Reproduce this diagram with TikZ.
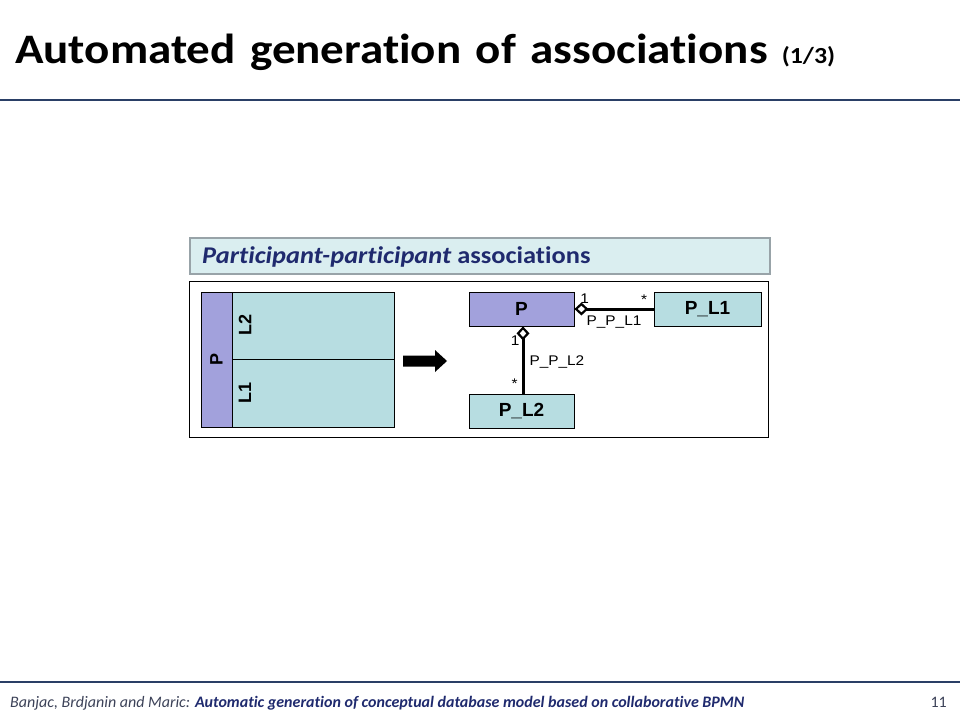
\documentclass[tikz,border=0pt]{standalone}
\usepackage{fontspec}
\setmainfont{Carlito}[Ligatures=NoCommon]
\newfontfamily\titlefont{Carlito}[FakeStretch=1.12, Ligatures=NoCommon, WordSpace=1.35]
\newfontfamily\headfont{Carlito}[FakeStretch=1.1, Ligatures=NoCommon]
\newfontfamily\arialfont{Liberation Sans}
\newfontfamily\arialwide{Liberation Sans}[FakeStretch=1.1]
\usetikzlibrary{positioning,arrows.meta}

\definecolor{navy}{HTML}{1F2A6E}
\definecolor{rulecol}{HTML}{2A3F66}
\definecolor{lavender}{HTML}{A2A1DC}
\definecolor{paleteal}{HTML}{B7DDE1}
\definecolor{barfill}{HTML}{DAEEF0}
\definecolor{bargray}{HTML}{98A3A8}
\definecolor{footgray}{HTML}{3C4258}

\tikzset{
	cls/.style = {draw, line width=0.8pt, minimum height=34pt, inner sep=0pt,
		font=\arialfont\fontsize{19}{22}\selectfont\bfseries},
	lane/.style = {draw, line width=0.8pt, fill=paleteal, inner sep=0pt},
	lanename/.style = {rotate=90, inner sep=0pt, font=\arialfont\fontsize{18}{20}\selectfont\bfseries},
	assoc/.style = {line width=3pt, -{Diamond[open, length=14pt, width=13pt, line width=2.2pt]}},
	mult/.style = {inner sep=1pt, font=\arialwide\fontsize{14}{16}\selectfont},
}

\begin{document}
\begin{tikzpicture}[x=1pt, y=-1pt]
	\useasboundingbox (0,0) rectangle (960,720);

	% title and rules
	\node[anchor=base west, inner sep=0pt] (title) at (15,63)
		{\titlefont\fontsize{42}{50}\selectfont\bfseries Automated generation of associations {\fontsize{23}{27}\selectfont (1/3)}};
	\draw[rulecol, line width=2pt] (0,100) -- (960,100);
	\draw[rulecol, line width=2pt] (0,682) -- (960,682);

	% footer
	\node[anchor=base west, inner sep=0pt] (foot) at (10,707)
		{\fontsize{16}{19}\selectfont\itshape\color{footgray}Banjac, Brdjanin and Maric: \color{navy}\bfseries Automatic generation of conceptual database model based on collaborative BPMN};
	\node[anchor=base east, inner sep=0pt, text=footgray] (pagenum) at (947,707)
		{\fontsize{16}{19}\selectfont 11};

	% header bar
	\draw[bargray, line width=2.5pt, fill=barfill] (190,238) rectangle (770,274);
	\node[anchor=base west, inner sep=0pt, text=navy] (header) at (202,263)
		{\headfont\fontsize{24}{28}\selectfont\bfseries\itshape Participant-participant\/ \upshape associations};
	\draw[line width=0.8pt] (189,281) rectangle (768,437);

	% pool with two lanes
	\node[lane, fill=lavender, minimum width=31pt, minimum height=135pt] (pool) at (216.5,359.5) {};
	\node[lane, minimum width=162pt, minimum height=67pt] (laneB) at (313,325.5) {};
	\node[lane, minimum width=162pt, minimum height=68pt] (laneA) at (313,393) {};
	\node[lanename] (poolname) at (pool.center) {P};
	\node[lanename] (laneBname) at (245,325) {L2};
	\node[lanename] (laneAname) at (245,393) {L1};

	% transformation arrow
	\fill (403,355.5) -- (435,355.5) -- (435,350) -- (447,361) -- (435,372) -- (435,366.5) -- (403,366.5) -- cycle;

	% classes
	\node[cls, fill=lavender, minimum width=105pt] (P) at (521.5,309) {P};
	\node[cls, fill=paleteal, minimum width=107pt] (PL1) at (707.5,309) {P\_L1};
	\node[cls, fill=paleteal, minimum width=105pt] (PL2) at (521.5,411) {P\_L2};

	% associations
	\draw[assoc] (PL1.west) --
		node[mult, pos=0.12, above=2pt] (m1) {*}
		node[mult, pos=0.87, above=3pt] (o1) {1}
		node[mult, below=4pt] (a1) {P\_P\_L1} (P.east);
	\draw[assoc] ([xshift=1.5pt]PL2.north) --
		node[mult, pos=0.15, left=3pt] (m2) {*}
		node[mult, pos=0.79, left=1pt] (o2) {1}
		node[mult, pos=0.47, right=4pt] (a2) {P\_P\_L2} ([xshift=1.5pt]P.south);
\end{tikzpicture}
\end{document}
